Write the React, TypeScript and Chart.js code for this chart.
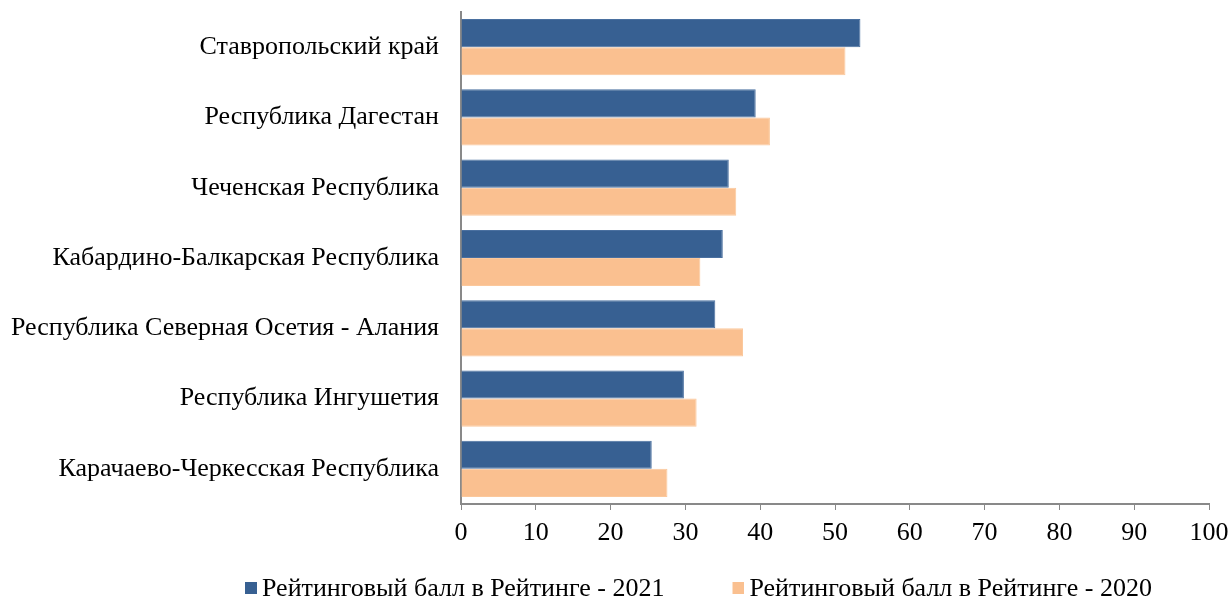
import React, { useEffect, useRef } from "react";
import { Chart, registerables } from "chart.js";

Chart.register(...registerables);

const categories = [
  "Ставропольский край",
  "Республика Дагестан",
  "Чеченская Республика",
  "Кабардино-Балкарская Республика",
  "Республика Северная Осетия - Алания",
  "Республика Ингушетия",
  "Карачаево-Черкесская Республика",
];
const series2021 = [53.4, 39.4, 35.8, 35.0, 34.0, 29.8, 25.5];
const series2020 = [51.4, 41.3, 36.8, 32.0, 37.7, 31.5, 27.6];
const label2021 = "Рейтинговый балл в Рейтинге - 2021";
const label2020 = "Рейтинговый балл в Рейтинге - 2020";
const colors = ["#376092", "#FAC090"];

const FONT = "'Liberation Serif', 'Times New Roman', serif";
const LEGEND_GAP = 60;

function makeSwatch(color: string): HTMLCanvasElement {
  const c = document.createElement("canvas");
  c.width = 28;
  c.height = 14;
  const ctx = c.getContext("2d")!;
  ctx.fillStyle = color;
  ctx.fillRect(16, 0, 12, 12);
  return c;
}

const legendPlacer = {
  id: "legendPlacer",
  afterLayout(chart: any) {
    const lg = chart.legend;
    if (!lg) return;
    lg.left = 177;
    lg.right = chart.width;
    lg.width = lg.right - lg.left;
    lg.top = 592 - LEGEND_GAP - 16;
    lg.bottom = chart.height;
    lg.height = lg.bottom - lg.top;
  },
};

export default function App() {
  const ref = useRef<HTMLCanvasElement>(null);
  useEffect(() => {
    if (!ref.current) return;
    const swatches = colors.map(makeSwatch);
    const chart = new Chart(ref.current, {
      type: "bar",
      plugins: [legendPlacer],
      data: {
        labels: categories,
        datasets: [
          {
            label: label2021,
            data: series2021,
            backgroundColor: colors[0],
            borderColor: "#4a70a0",
            borderWidth: 1,
            categoryPercentage: 0.8,
            barPercentage: 1,
          },
          {
            label: label2020,
            data: series2020,
            backgroundColor: colors[1],
            borderColor: "#fbc89c",
            borderWidth: 1,
            categoryPercentage: 0.8,
            barPercentage: 1,
          },
        ],
      },
      options: {
        indexAxis: "y",
        animation: false,
        responsive: false,
        maintainAspectRatio: false,
        layout: { padding: { top: 12, right: 23, left: 0, bottom: 0 } },
        plugins: {
          tooltip: { enabled: false },
          legend: {
            position: "bottom",
            align: "start",
            maxHeight: 50,
            labels: {
              font: { family: FONT, size: 26 },
              color: "#000",
              boxWidth: 12,
              boxHeight: 12,
              usePointStyle: true,
              padding: LEGEND_GAP,
              generateLabels: (ch: any) => {
                const items = Chart.defaults.plugins.legend.labels.generateLabels(ch);
                return items.map((it: any, i: number) => ({ ...it, pointStyle: swatches[i] }));
              },
            },
          },
        },
        scales: {
          x: {
            min: 0,
            max: 100,
            ticks: {
              stepSize: 10,
              font: { family: FONT, size: 26 },
              color: "#000",
              padding: 8,
              maxRotation: 0,
            },
            grid: {
              drawOnChartArea: false,
              drawTicks: true,
              tickLength: 6,
              color: "#898989",
            },
            border: { display: true, color: "#898989", width: 2 },
            afterFit: (scale: any) => {
              scale.height = 47;
              scale.paddingLeft = 0;
              scale.paddingRight = 0;
            },
          },
          y: {
            ticks: {
              font: { family: FONT, size: 26 },
              color: "#000",
              padding: 22,
            },
            grid: { display: false, drawTicks: false },
            border: { display: true, color: "#898989", width: 2 },
            afterFit: (scale: any) => {
              scale.width = 461;
              scale.paddingTop = 0;
              scale.paddingBottom = 0;
            },
          },
        },
      },
    });
    return () => chart.destroy();
  }, []);
  return (
    <div style={{ position: "fixed", left: 0, top: 0, width: 1232, height: 601, background: "#fff" }}>
      <canvas ref={ref} width={1232} height={601} style={{ display: "block" }} />
    </div>
  );
}
